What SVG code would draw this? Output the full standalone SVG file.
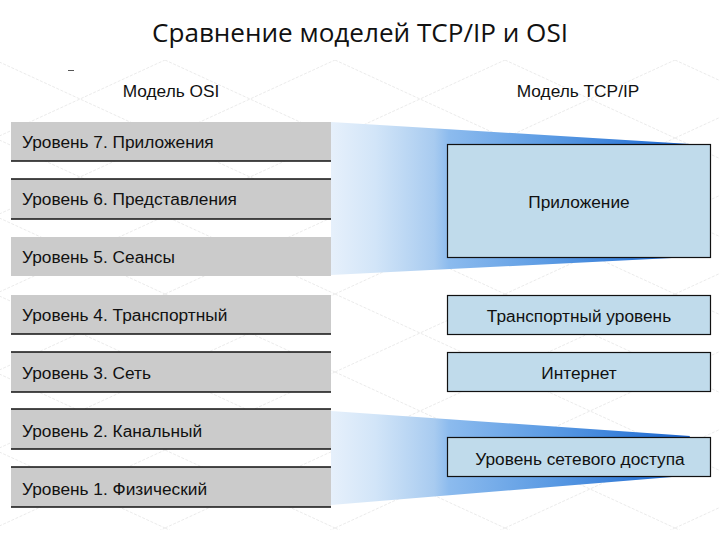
<svg xmlns="http://www.w3.org/2000/svg" width="720" height="540" viewBox="0 0 720 540">
  <defs>
    <pattern id="lattice" patternUnits="userSpaceOnUse" x="-5" y="60" width="170" height="78">
      <path d="M0,0 L170,78 M0,78 L170,0" stroke="#d4d4d4" stroke-width="0.8" fill="none" stroke-dasharray="3,1.5"/>
    </pattern>
    <linearGradient id="funnel" gradientUnits="userSpaceOnUse" x1="331" y1="0" x2="700" y2="0">
      <stop offset="0" stop-color="#e6f0fb"/>
      <stop offset="0.12" stop-color="#d2e5f8"/>
      <stop offset="0.28" stop-color="#a8cbf0"/>
      <stop offset="0.32" stop-color="#8cbbee"/>
      <stop offset="0.6" stop-color="#5a9ae3"/>
      <stop offset="0.85" stop-color="#2e77d6"/>
      <stop offset="1" stop-color="#1b5fc6"/>
    </linearGradient>
    <style>
      .title { font-family: "Open Sans", "Noto Sans", sans-serif; font-size: 25px; fill: #111; }
      .hdr { font-family: "Liberation Sans", Arial, sans-serif; font-size: 17.3px; fill: #111; }
      .lbl { font-family: "Liberation Sans", Arial, sans-serif; font-size: 17.3px; fill: #111; }
      .osi { fill: #cbcbcb; }
      .edge { stroke: #111; stroke-width: 1.3; }
      .tcp { fill: #c0dbeb; stroke: #111; stroke-width: 1.2; }
      .ctr { text-anchor: middle; }
    </style>
  </defs>

  <rect width="720" height="540" fill="#ffffff"/>
  <rect x="0" y="60" width="720" height="470" fill="url(#lattice)" opacity="0.6"/>

  <text class="title ctr" x="360" y="42" textLength="416" lengthAdjust="spacingAndGlyphs">Сравнение моделей TCP/IP и OSI</text>
  <line x1="68" y1="70.5" x2="74" y2="70.5" stroke="#555" stroke-width="1"/>

  <text class="hdr ctr" x="171" y="97">Модель OSI</text>
  <text class="hdr ctr" x="578" y="97">Модель TCP/IP</text>

  <g id="connectors">
    <polygon points="331,122 690,144 672,258 331,275" fill="url(#funnel)"/>
    <polygon points="331,411 690,436 672,477 331,505" fill="url(#funnel)"/>
  </g>

  <g id="osi7">
    <rect class="osi" x="11" y="122" width="320" height="39"/>
    <line class="edge" x1="11" y1="161" x2="331" y2="161"/>
    <text class="lbl" x="22" y="148">Уровень 7. Приложения</text>
  </g>
  <g id="osi6">
    <rect class="osi" x="11" y="179" width="320" height="40"/>
    <line class="edge" x1="11" y1="179" x2="331" y2="179"/>
    <line class="edge" x1="11" y1="219" x2="331" y2="219"/>
    <text class="lbl" x="22" y="205">Уровень 6. Представления</text>
  </g>
  <g id="osi5">
    <rect class="osi" x="11" y="237" width="320" height="39"/>
    <text class="lbl" x="22" y="263">Уровень 5. Сеансы</text>
  </g>
  <g id="osi4">
    <rect class="osi" x="11" y="295" width="320" height="39"/>
    <line class="edge" x1="11" y1="334" x2="331" y2="334"/>
    <text class="lbl" x="22" y="321">Уровень 4. Транспортный</text>
  </g>
  <g id="osi3">
    <rect class="osi" x="11" y="352" width="320" height="40"/>
    <line class="edge" x1="11" y1="352" x2="331" y2="352"/>
    <line class="edge" x1="11" y1="392" x2="331" y2="392"/>
    <text class="lbl" x="22" y="379">Уровень 3. Сеть</text>
  </g>
  <g id="osi2">
    <rect class="osi" x="11" y="409" width="320" height="40"/>
    <line class="edge" x1="11" y1="409" x2="331" y2="409"/>
    <line class="edge" x1="11" y1="449" x2="331" y2="449"/>
    <text class="lbl" x="22" y="437">Уровень 2. Канальный</text>
  </g>
  <g id="osi1">
    <rect class="osi" x="11" y="467" width="320" height="40"/>
    <line class="edge" x1="11" y1="467" x2="331" y2="467"/>
    <line class="edge" x1="11" y1="507" x2="331" y2="507"/>
    <text class="lbl" x="22" y="495">Уровень 1. Физический</text>
  </g>

  <g id="tcp-app">
    <rect class="tcp" x="447.5" y="144.5" width="263" height="113"/>
    <text class="lbl ctr" x="579" y="208">Приложение</text>
  </g>
  <g id="tcp-transport">
    <rect class="tcp" x="447.5" y="295.5" width="263" height="39"/>
    <text class="lbl ctr" x="579" y="322">Транспортный уровень</text>
  </g>
  <g id="tcp-internet">
    <rect class="tcp" x="447.5" y="352.5" width="263" height="39"/>
    <text class="lbl ctr" x="579" y="379">Интернет</text>
  </g>
  <g id="tcp-access">
    <rect class="tcp" x="447.5" y="437.5" width="263" height="39"/>
    <text class="lbl ctr" x="580" y="465">Уровень сетевого доступа</text>
  </g>
</svg>
